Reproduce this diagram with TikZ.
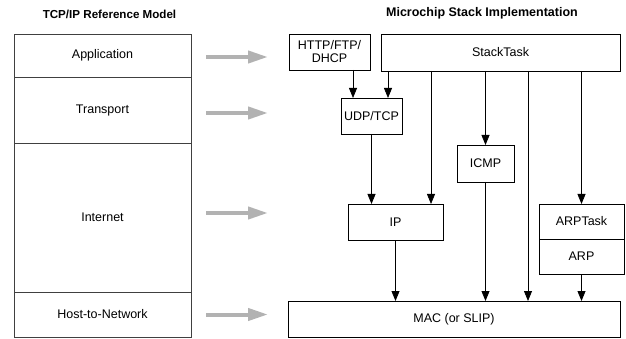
\documentclass[tikz,border=0pt]{standalone}
\usepackage{fontspec}
\setmainfont{Liberation Sans}
\usetikzlibrary{arrows.meta, positioning}
\tikzset{
    %Define standard arrow tip
    >={Triangle[length=10pt,width=8pt]},
    %Define style for the layers of the reference model
    couche/.style={
           rectangle,
           draw=black!75, line width=0.9pt,
           minimum width=177pt,
           inner sep=0pt, outer sep=0pt,
           text centered},
    %Define style for the stack boxes
    bloc/.style={
           rectangle,
           draw=black, line width=0.9pt,
           inner sep=1pt, outer sep=0pt,
           align=center},
    % Define arrow styles
    pil/.style={
           ->,
           line width=0.8pt},
    grosse/.style={
           -{Triangle[length=20pt,width=12pt]},
           line width=4pt,
           draw=black!30},
    titre/.style={font=\fontsize{#1}{13}\selectfont\bfseries}
}
\begin{document}
\begin{tikzpicture}[x=1pt, y=-1pt, font=\fontsize{12.5}{13}\selectfont]
	\useasboundingbox (0,0) rectangle (626,339);
	%
	% titres
	%
	\node[titre=11.6] (titreg) at (109.5,14) {TCP/IP Reference Model};
	\node[titre=12.5] (titred) at (482,13) {Microchip Stack Implementation};
	%
	% couches
	%
	\node[couche, minimum height=43pt] (app) at (102.5,55.5) {Application};
	\node[couche, minimum height=66pt, below=0pt of app] (trans) {Transport};
	\node[couche, minimum height=149pt, below=0pt of trans] (inet) {Internet};
	\node[couche, minimum height=45pt, below=0pt of inet] (host) {Host-to-Network};
	%
	% blocs
	%
	\node[bloc, minimum width=81pt, minimum height=36pt] (http) at (329.5,52) {HTTP/FTP/\\DHCP};
	\node[bloc, minimum width=239pt, minimum height=37pt] (stack) at (500.5,52.5) {StackTask};
	\node[bloc, minimum width=61pt, minimum height=36pt] (udp) at (371.5,116) {UDP/TCP};
	\node[bloc, minimum width=57pt, minimum height=37pt] (icmp) at (485.5,163.5) {ICMP};
	\node[bloc, minimum width=95pt, minimum height=36pt] (ip) at (395.5,222) {IP};
	\node[bloc, minimum width=85pt, minimum height=35pt] (arptask) at (581.5,221.5) {ARPTask};
	\node[bloc, minimum width=85pt, minimum height=35pt, below=0pt of arptask] (arp) {ARP};
	\node[bloc, minimum width=332pt, minimum height=36pt] (mac) at (454,319) {MAC (or SLIP)};
	%
	% Liens
	%
	\coordinate (u1) at ([xshift=-18.5pt]udp.north);
	\coordinate (u2) at ([xshift=16.5pt]udp.north);
	\coordinate (i2) at ([xshift=35.5pt]ip.north);
	\coordinate (m3) at ([xshift=74pt]mac.north);
	\draw[pil] (u1 |- http.south) -- (u1);
	\draw[pil] (u2 |- stack.south) -- (u2);
	\draw[pil] (udp.south) -- (udp.south |- ip.north);
	\draw[pil] (i2 |- stack.south) -- (i2);
	\draw[pil] (icmp.north |- stack.south) -- (icmp.north);
	\draw[pil] (icmp.south) -- (icmp.south |- mac.north);
	\draw[pil] (m3 |- stack.south) -- (m3);
	\draw[pil] (arptask.north |- stack.south) -- (arptask.north);
	\draw[pil] (ip.south) -- (ip.south |- mac.north);
	\draw[pil] (arp.south) -- (arp.south |- mac.north);
	\foreach \c/\dy in {app/-1.5, trans/-3, inet/4.5, host/0}
		\draw[grosse] ([xshift=15pt, yshift=\dy pt]\c.east) -- ++(62,0);
\end{tikzpicture}
\end{document}
